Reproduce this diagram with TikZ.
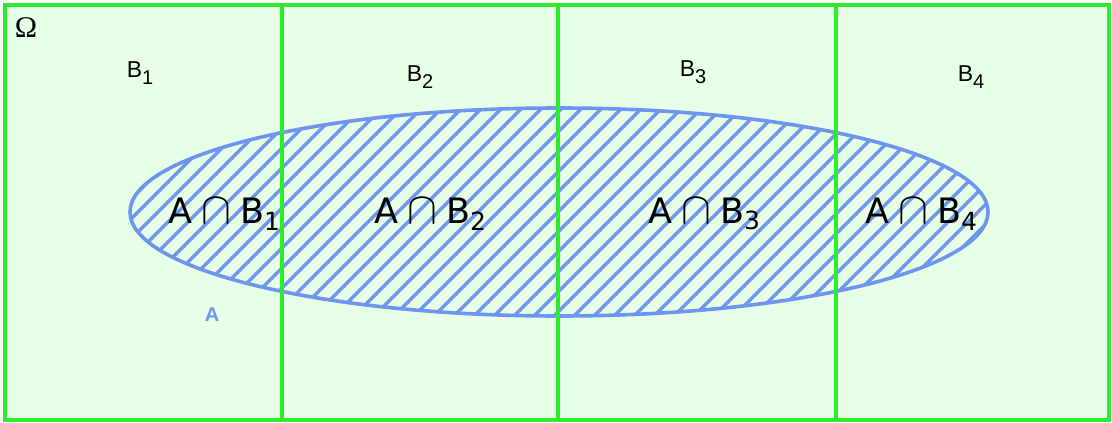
\documentclass[tikz,border=0pt]{standalone}
\usepackage{fontspec}
\setmainfont{Liberation Sans}
\newfontfamily\dejavu{DejaVu Sans}
\newfontfamily\serif{Liberation Serif}
\definecolor{gline}{RGB}{45,235,45}
\definecolor{gfill}{RGB}{230,255,230}
\definecolor{hblue}{RGB}{110,150,240}
\newcommand{\isub}[1]{\raisebox{-0.35ex}{\fontsize{25}{27}\selectfont #1}}
\newcommand{\bsub}[1]{\raisebox{-0.55ex}{\fontsize{20}{22}\selectfont #1}}
\newcommand{\capsym}{\hspace{0.26em}\scalebox{1.8}{$\cap$}\hspace{0.26em}}
\tikzset{
  region/.style={draw=gline, line width=3.6pt},
  blabel/.style={font=\fontsize{23}{25}\selectfont, inner sep=0pt},
  ilabel/.style={font=\dejavu\fontsize{35}{37}\selectfont, inner sep=0pt},
  hatch/.style={draw=hblue, line width=3.2pt},
  oval/.style={draw=hblue, line width=3.6pt}
}
\begin{document}
\begin{tikzpicture}[x=1pt,y=-1pt]
\useasboundingbox (0,0) rectangle (1112,423);
\fill[gfill] (5,5) rectangle (1109,420);
\begin{scope}
  \clip (559,212) ellipse [x radius=429, y radius=104];
  \foreach \k in {-120,-100,...,1000} {
    \draw[hatch] (\k,330) -- (\k+240,90);
  }
\end{scope}
\draw[oval] (559,212) ellipse [x radius=429, y radius=104];
\draw[region] (5,5) rectangle (1109,420);
\draw[region] (282,5) -- (282,420);
\draw[region] (558,5) -- (558,420);
\draw[region] (836,5) -- (836,420);
\node[font=\serif\fontsize{30}{32}\selectfont, inner sep=0pt] (omega) at (26,28) {Ω};
\node[blabel] (b1) at (140,73) {B\bsub{1}};
\node[blabel] (b2) at (420,77) {B\bsub{2}};
\node[blabel] (b3) at (693,72) {B\bsub{3}};
\node[blabel] (b4) at (971,77) {B\bsub{4}};
\node[ilabel] (i1) at (224,214) {A\capsym B\isub{1}};
\node[ilabel] (i2) at (430,214) {A\capsym B\isub{2}};
\node[ilabel] (i3) at (704,214) {A\capsym B\isub{3}};
\node[ilabel] (i4) at (921,214) {A\capsym B\isub{4}};
\node[font=\bfseries\fontsize{20}{22}\selectfont, text=hblue, inner sep=0pt] (a) at (212,315) {A};
\end{tikzpicture}
\end{document}
